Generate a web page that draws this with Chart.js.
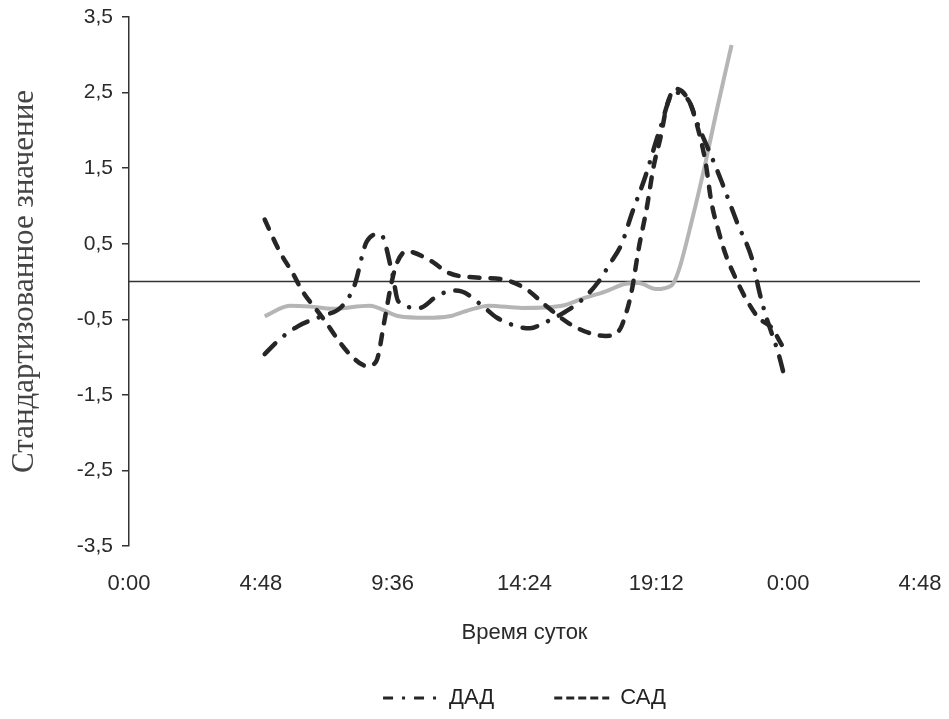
<!DOCTYPE html>
<html>
<head>
<meta charset="utf-8">
<script src="https://cdn.jsdelivr.net/npm/chart.js@4/dist/chart.umd.min.js"></script>
<style>
  html, body { margin: 0; padding: 0; background: #fff; }
  #wrap { width: 949px; height: 719px; }
</style>
</head>
<body>
<div id="wrap"><canvas id="c" width="949" height="719"></canvas></div>
<script>
// ---- data (hours since 0:00, standardized values) ----
const xTickValues = [0, 4.8, 9.6, 14.4, 19.2, 24, 28.8];
const yTickValues = [-3.5, -2.5, -1.5, -0.5, 0.5, 1.5, 2.5, 3.5];

const dadHours  = [4.94, 5.5, 6.16, 7.0, 7.75, 8.2, 8.66, 9.15, 9.59, 9.8, 10.57, 11.23, 11.8, 12.1, 12.86, 13.4, 14.2, 14.6, 15.1, 15.65, 16.5, 17.1, 17.5, 17.94, 18.3, 18.8, 19.3, 19.85, 20.4, 20.74, 21.2, 21.58, 22.12, 22.74, 22.92, 23.17, 23.65, 23.9];
const dadValues = [-0.96, -0.76, -0.59, -0.46, -0.33, -0.06, 0.53, 0.63, 0.10, -0.26, -0.35, -0.19, -0.12, -0.13, -0.32, -0.48, -0.60, -0.62, -0.55, -0.45, -0.24, 0.0, 0.23, 0.50, 0.89, 1.39, 1.98, 2.50, 2.38, 2.05, 1.66, 1.32, 0.80, 0.23, -0.09, -0.43, -0.96, -1.31];

const sadHours  = [4.94, 5.48, 5.96, 6.32, 7.01, 8.03, 8.68, 9.01, 9.3, 9.55, 9.74, 10.1, 11.0, 11.66, 12.75, 13.59, 14.46, 15.18, 16.0, 16.75, 17.36, 17.84, 18.09, 18.3, 18.56, 18.85, 19.1, 19.36, 19.58, 19.9, 20.4, 20.74, 21.0, 21.2, 21.47, 21.72, 22.08, 22.45, 22.92, 23.39, 23.8];
const sadValues = [0.82, 0.40, 0.11, -0.13, -0.46, -0.96, -1.12, -1.05, -0.52, -0.03, 0.23, 0.40, 0.27, 0.11, 0.05, 0.03, -0.10, -0.32, -0.55, -0.68, -0.72, -0.65, -0.43, -0.13, 0.44, 0.97, 1.52, 1.92, 2.32, 2.55, 2.38, 1.99, 1.56, 1.06, 0.66, 0.36, 0.05, -0.22, -0.48, -0.61, -0.86];

const greyHours  = [4.94, 5.85, 6.57, 7.41, 8.75, 9.84, 10.82, 11.66, 12.28, 13.11, 14.31, 15.76, 16.49, 17.36, 18.09, 18.56, 19.18, 19.76, 20.01, 20.49, 21.0, 21.36, 21.72, 21.94];
const greyValues = [-0.46, -0.32, -0.33, -0.36, -0.32, -0.46, -0.48, -0.46, -0.39, -0.32, -0.35, -0.32, -0.23, -0.13, -0.03, -0.02, -0.10, -0.05, 0.14, 0.80, 1.59, 2.20, 2.78, 3.13];

const toPoints = (xs, ys) => xs.map((x, i) => ({ x: x, y: ys[i] }));

function fmtTime(v) {
  const total = Math.round(v * 60);
  const h = Math.floor(total / 60) % 24;
  const m = total % 60;
  return h + ':' + (m < 10 ? '0' : '') + m;
}

const zeroLine = {
  id: 'zeroLine',
  beforeDatasetsDraw(chart) {
    const { ctx, scales } = chart;
    const y = scales.y.getPixelForValue(0);
    const x0 = scales.x.getPixelForValue(0);
    const x1 = scales.x.getPixelForValue(28.8);
    ctx.save();
    ctx.strokeStyle = '#333';
    ctx.lineWidth = 1.5;
    ctx.beginPath();
    ctx.moveTo(x0, y);
    ctx.lineTo(x1, y);
    ctx.stroke();
    ctx.restore();
  }
};

const ink = '#262626';
const sans = 'Liberation Sans, Arial, sans-serif';

new Chart(document.getElementById('c'), {
  type: 'line',
  data: {
    datasets: [
      {
        label: 'ДАД',
        data: toPoints(dadHours, dadValues),
        borderColor: ink,
        backgroundColor: ink,
        borderWidth: 4.5,
        borderDash: [15, 12, 0.1, 12],
        borderCapStyle: 'round',
        pointRadius: 0,
        cubicInterpolationMode: 'monotone',
        fill: false
      },
      {
        label: 'САД',
        data: toPoints(sadHours, sadValues),
        borderColor: ink,
        backgroundColor: ink,
        borderWidth: 4.5,
        borderDash: [10, 11],
        borderCapStyle: 'round',
        pointRadius: 0,
        cubicInterpolationMode: 'monotone',
        fill: false
      },
      {
        label: 'grey',
        data: toPoints(greyHours, greyValues),
        borderColor: '#b5b5b5',
        backgroundColor: '#b5b5b5',
        borderWidth: 4,
        pointRadius: 0,
        cubicInterpolationMode: 'monotone',
        fill: false
      }
    ]
  },
  options: {
    responsive: false,
    animation: false,
    layout: { padding: { left: 0, right: 0, top: 17, bottom: 0 } },
    plugins: {
      tooltip: { enabled: false },
      legend: {
        position: 'bottom',
        fullSize: false,
        labels: {
          color: '#222',
          font: { family: sans, size: 22 },
          usePointStyle: true,
          pointStyle: 'line',
          pointStyleWidth: 55,
          padding: 60,
          generateLabels(chart) {
            const items = Chart.defaults.plugins.legend.labels.generateLabels(chart);
            return items.filter(it => it.text !== 'grey').map(it => {
              it.lineWidth = 3;
              it.lineCap = 'butt';
              it.lineDash = it.text === 'ДАД' ? [10, 9, 3, 9] : [8, 4];
              it.pointStyle = 'line';
              return it;
            });
          }
        }
      }
    },
    scales: {
      x: {
        type: 'linear',
        min: 0,
        max: 28.8,
        afterBuildTicks(scale) { scale.ticks = xTickValues.map(v => ({ value: v })); },
        afterFit(scale) { scale.height = 81; scale.paddingRight = 29; scale.paddingLeft = 0; },
        border: { display: false },
        grid: { display: false },
        ticks: {
          color: '#2a2a2a',
          padding: 17,
          font: { family: sans, size: 22 },
          callback: (v) => fmtTime(v),
          maxRotation: 0
        },
        title: {
          display: true,
          text: 'Время суток',
          color: '#2a2a2a',
          font: { family: sans, size: 22 },
          padding: { top: 0, bottom: -19 }
        }
      },
      y: {
        type: 'linear',
        min: -3.5,
        max: 3.5,
        afterBuildTicks(scale) { scale.ticks = yTickValues.map(v => ({ value: v })); },
        afterFit(scale) { scale.width = 129; scale.paddingTop = 0; scale.paddingBottom = 0; },
        border: { display: true, color: '#333', width: 1.5 },
        grid: { drawOnChartArea: false, drawTicks: true, tickLength: 7, color: '#333', lineWidth: 1.5 },
        ticks: {
          color: '#2a2a2a',
          padding: 9,
          font: { family: sans, size: 21 },
          callback: (v) => v.toFixed(1).replace('.', ',')
        },
        title: {
          display: true,
          text: 'Стандартизованное значение',
          color: '#444',
          font: { family: 'Liberation Serif, Times New Roman, serif', size: 31 },
          padding: { top: 6, bottom: 0 }
        }
      }
    }
  },
  plugins: [zeroLine]
});
</script>
</body>
</html>
